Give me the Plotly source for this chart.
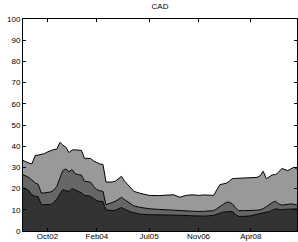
import plotly.graph_objects as go

dates = ["2002-02-01","2002-03-01","2002-04-01","2002-05-01","2002-06-01","2002-07-01","2002-08-01","2002-09-01",
         "2002-10-01","2002-11-01","2002-12-01","2003-01-01","2003-02-01","2003-03-01","2003-04-01","2003-05-01",
         "2003-06-01","2003-07-01","2003-08-01","2003-09-01","2003-10-01","2003-11-01","2003-12-01","2004-01-01",
         "2004-02-01","2004-03-01","2004-04-01","2004-05-01","2004-06-01","2004-07-01","2004-08-01","2004-09-01",
         "2004-10-01","2004-11-01","2004-12-01","2005-01-01","2005-02-01","2005-04-01","2005-07-01","2005-10-01",
         "2005-12-01","2006-03-01","2006-05-01","2006-07-01","2006-09-01","2006-11-01","2007-01-01","2007-04-01",
         "2007-05-01","2007-06-01","2007-07-01","2007-08-01","2007-09-01","2007-10-01","2007-11-01","2007-12-01",
         "2008-02-01","2008-04-01","2008-06-01","2008-07-01","2008-08-01","2008-09-01","2008-10-01","2008-11-01",
         "2008-12-01","2009-01-01","2009-02-01","2009-03-01","2009-04-01","2009-05-01","2009-06-01","2009-07-01"]

total = [33.3,32.5,32.0,31.7,35.6,35.8,36.0,36.5,37.3,37.9,38.4,38.6,41.8,40.5,39.5,37.0,
         38.2,38.3,38.2,38.0,34.3,34.3,34.2,33.0,32.1,31.6,31.4,23.1,23.1,23.1,23.5,24.8,
         25.8,23.5,21.9,20.0,18.7,17.8,16.8,16.7,16.8,17.1,15.9,16.8,17.1,16.8,17.0,16.8,
         19.5,21.9,22.2,22.5,23.5,24.7,24.8,24.9,25.2,25.3,25.3,26.0,28.2,24.7,25.8,26.5,
         26.6,27.8,29.5,29.0,28.5,29.3,30.1,29.2]
mid_cum = [26.6,26.0,25.2,24.0,22.7,22.0,17.9,18.0,18.2,18.4,19.3,21.0,25.0,28.5,29.3,27.9,
           29.0,27.0,26.6,26.4,23.5,23.3,23.0,21.0,19.5,19.0,18.7,12.4,12.8,13.4,14.0,15.0,
           15.9,14.8,13.9,12.6,11.8,11.2,10.5,10.2,10.0,9.9,9.6,9.5,9.4,9.2,9.3,9.6,
           10.5,11.6,12.5,13.5,13.6,12.8,11.0,9.6,9.6,9.6,9.8,10.0,10.5,11.5,12.5,13.5,
           14.0,12.8,12.2,12.4,12.6,12.8,12.6,12.2]
bottom = [20.3,20.0,19.0,17.0,16.4,16.2,12.4,12.4,12.4,12.5,13.4,15.0,17.5,19.5,19.0,18.7,
          20.0,19.3,18.7,18.0,16.8,16.6,16.4,15.3,14.3,14.0,13.9,10.0,9.8,9.6,9.8,10.5,
          11.1,10.3,9.6,9.0,8.6,8.0,7.7,7.7,7.6,7.5,7.4,7.3,7.1,6.9,7.0,7.4,
          8.0,8.5,8.9,9.0,9.1,9.2,7.8,6.9,6.9,7.2,7.9,8.2,8.6,8.9,9.2,9.8,
          10.5,10.2,10.0,10.2,10.3,10.5,10.4,10.3]

middle = [round(m - b, 2) for m, b in zip(mid_cum, bottom)]
top = [round(t - m, 2) for t, m in zip(total, mid_cum)]

tick_dates = ["2002-10-01", "2004-02-01", "2005-07-01", "2006-11-01", "2008-04-01"]
tick_text = ["Oct02", "Feb04", "Jul05", "Nov06", "Apr08"]
y_ticks = list(range(0, 101, 10))

fig = go.Figure()
for vals, col in [(bottom, "#333333"), (middle, "#666666"), (top, "#999999")]:
    fig.add_trace(go.Scatter(x=dates, y=vals, stackgroup="s", mode="lines",
                             line=dict(color="black", width=1), fillcolor=col,
                             hoverinfo="skip"))

fig.update_layout(
    width=298, height=242,
    margin=dict(l=23, r=1, t=19, b=11),
    paper_bgcolor="white", plot_bgcolor="white",
    showlegend=False,
    font=dict(family="Liberation Sans, Arial, sans-serif", size=8, color="black"),
    title=dict(text="CAD", x=0.5, xanchor="center", xref="paper",
               yref="container", y=1, yanchor="top", pad=dict(t=3),
               font=dict(size=8, color="black")),
)
fig.update_xaxes(range=[dates[0], dates[-1]], tickvals=tick_dates, ticktext=tick_text,
                 ticks="inside", ticklen=3, tickcolor="black", showline=True,
                 linecolor="black", linewidth=1, mirror="ticks", showgrid=False,
                 zeroline=False, ticklabelstandoff=-3)
fig.update_yaxes(range=[0, 100], tickvals=y_ticks, ticks="inside", ticklen=3,
                 tickcolor="black", showline=True, linecolor="black", linewidth=1,
                 mirror="ticks", showgrid=False, zeroline=False)

fig.write_html("out.html", config={"displayModeBar": False},
               post_script="document.body.style.margin='0';document.body.style.overflow='hidden';")
